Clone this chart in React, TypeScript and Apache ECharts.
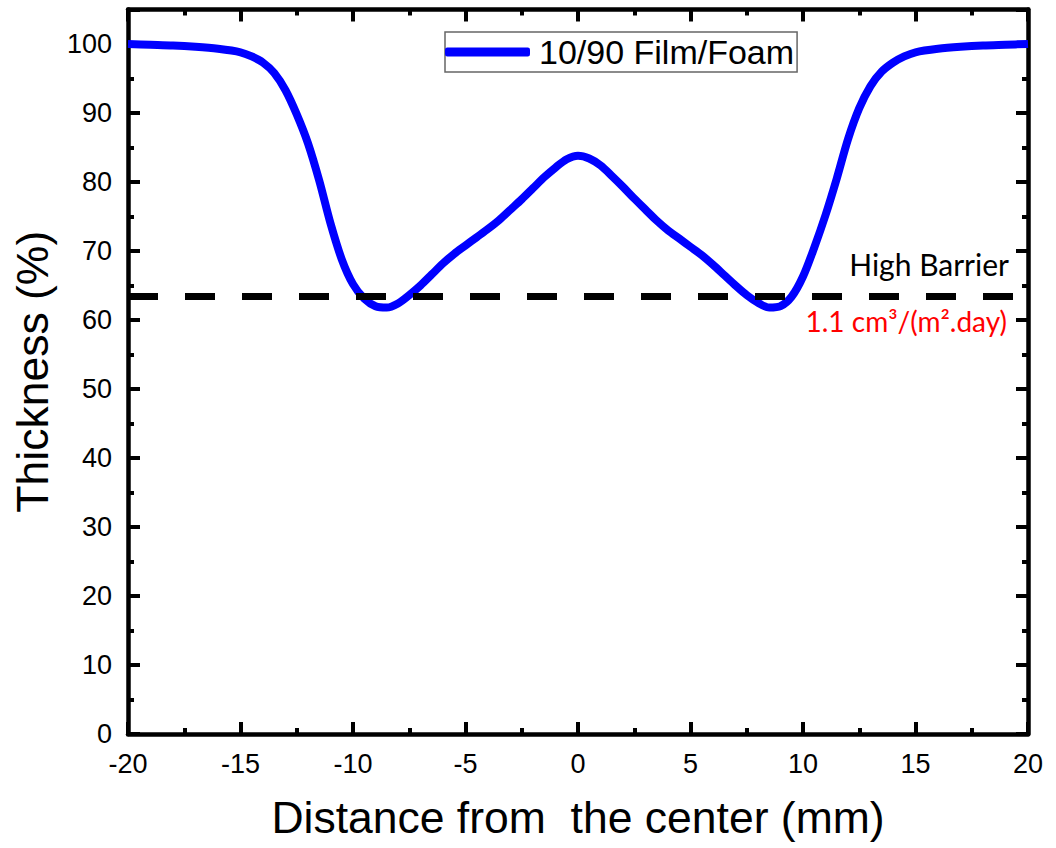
import { useEffect, useRef } from "react";
import * as echarts from "echarts";

// Distance from the centre (mm) and measured relative thickness (%)
const distanceMm = [
  -20, -19, -18, -17, -16, -15, -14.5, -14, -13.5, -13, -12.5, -12, -11.5, -11, -10.5, -10, -9.5,
  -9, -8.5, -8, -7.5, -7, -6.5, -6, -5.5, -5, -4.5, -4, -3.5, -3, -2.5, -2, -1.5, -1, -0.5, 0,
  0.5, 1, 1.5, 2, 2.5, 3, 3.5, 4, 4.5, 5, 5.5, 6, 6.5, 7, 7.5, 8, 8.5, 9, 9.5, 10, 10.5, 11, 11.5,
  12, 12.5, 13, 13.5, 14, 14.5, 15, 16, 17, 18, 19, 20,
];
const thicknessPct = [
  100, 99.9, 99.8, 99.6, 99.3, 98.8, 98.2, 97.3, 95.8, 93.3, 89.8, 85.6, 80.2, 74, 68.8, 65.2, 63.1,
  62, 61.8, 62.4, 63.6, 65, 66.6, 68.2, 69.6, 70.8, 72, 73.2, 74.5, 76, 77.5, 79.1, 80.7, 82.1, 83.3,
  83.8, 83.4, 82.4, 80.9, 79.3, 77.6, 76, 74.4, 73, 71.8, 70.6, 69.4, 68, 66.5, 65, 63.6, 62.5, 61.8,
  62, 63.4, 66.3, 70.5, 75.2, 80.5, 86.2, 90.7, 93.9, 96, 97.3, 98.2, 98.8, 99.3, 99.6, 99.8, 99.9,
  100,
];

const seriesName = "10/90 Film/Foam";
const barrierLevel = 63.4;
const barrierTitle = "High Barrier";
const barrierRate = "1.1 cm³/(m².day)";

const xRange = [-20, 20];
const xStep = 5;
const yRange = [0, 105];
const yStep = 10;

const AXIS_FONT = "'Liberation Sans', Arial, sans-serif";
const NOTE_FONT = "Lato, 'Open Sans', sans-serif";

function frameAxis(position: string, withLabels: boolean, min: number, max: number, interval: number) {
  return {
    type: "value",
    position,
    min,
    max,
    interval,
    axisLine: { show: true, onZero: false, lineStyle: { color: "#000", width: 4.5 } },
    axisTick: { show: true, inside: true, length: 12, lineStyle: { color: "#000", width: 4 } },
    minorTick: { show: true, splitNumber: 2, length: 6, lineStyle: { color: "#000", width: 4 } },
    splitLine: { show: false },
    minorSplitLine: { show: false },
    axisLabel: {
      show: withLabels,
      color: "#000",
      fontSize: 27,
      fontFamily: AXIS_FONT,
      margin: 16,
      showMaxLabel: max % interval === 0,
    },
  };
}

export default function App() {
  const ref = useRef<HTMLDivElement>(null);

  useEffect(() => {
    if (!ref.current) return;
    const chart = echarts.init(ref.current, null, { renderer: "svg" });
    const points = distanceMm.map((d, i) => [d, thicknessPct[i]]);

    chart.setOption({
      animation: false,
      backgroundColor: "#fff",
      grid: { left: 128, right: 28, top: 9.5, bottom: 114 },
      legend: {
        data: [seriesName],
        left: 445,
        top: 32,
        icon: "roundRect",
        itemWidth: 85,
        itemHeight: 9,
        padding: [3, 3, 3, 0],
        borderColor: "#666",
        borderWidth: 1.5,
        textStyle: {
          color: "#000",
          fontSize: 34,
          fontFamily: AXIS_FONT,
          padding: [0, 0, 0, 4],
        },
      },
      xAxis: [
        {
          ...frameAxis("bottom", true, xRange[0], xRange[1], xStep),
          name: "Distance from  the center (mm)",
          nameLocation: "middle",
          nameGap: 61,
          nameTextStyle: { color: "#000", fontSize: 44.5, fontFamily: AXIS_FONT },
        },
        frameAxis("top", false, xRange[0], xRange[1], xStep),
      ],
      yAxis: [
        {
          ...frameAxis("left", true, yRange[0], yRange[1], yStep),
          name: "Thickness (%)",
          nameLocation: "middle",
          nameGap: 73,
          nameTextStyle: { color: "#000", fontSize: 44.5, fontFamily: AXIS_FONT },
        },
        frameAxis("right", false, yRange[0], yRange[1], yStep),
      ],
      series: [
        {
          name: seriesName,
          type: "line",
          data: points,
          smooth: 0.3,
          symbol: "none",
          color: "#0000ff",
          lineStyle: { color: "#0000ff", width: 8 },
          z: 2,
        },
        {
          name: barrierTitle,
          type: "line",
          data: [
            [xRange[0], barrierLevel],
            [xRange[1], barrierLevel],
          ],
          symbol: "none",
          silent: true,
          lineStyle: { color: "#000", width: 7, type: [30, 27], cap: "butt" },
          z: 3,
        },
      ],
      graphic: [
        {
          type: "text",
          right: 47,
          top: 249,
          style: {
            text: barrierTitle,
            fill: "#000",
            font: `30px ${NOTE_FONT}`,
          },
        },
        {
          type: "text",
          right: 49,
          top: 307,
          style: {
            text: barrierRate,
            fill: "#ff0000",
            font: `28px ${NOTE_FONT}`,
          },
        },
      ],
    });

    return () => chart.dispose();
  }, []);

  return (
    <div
      ref={ref}
      style={{ position: "fixed", left: 0, top: 0, width: 1056, height: 848, background: "#fff" }}
    />
  );
}
